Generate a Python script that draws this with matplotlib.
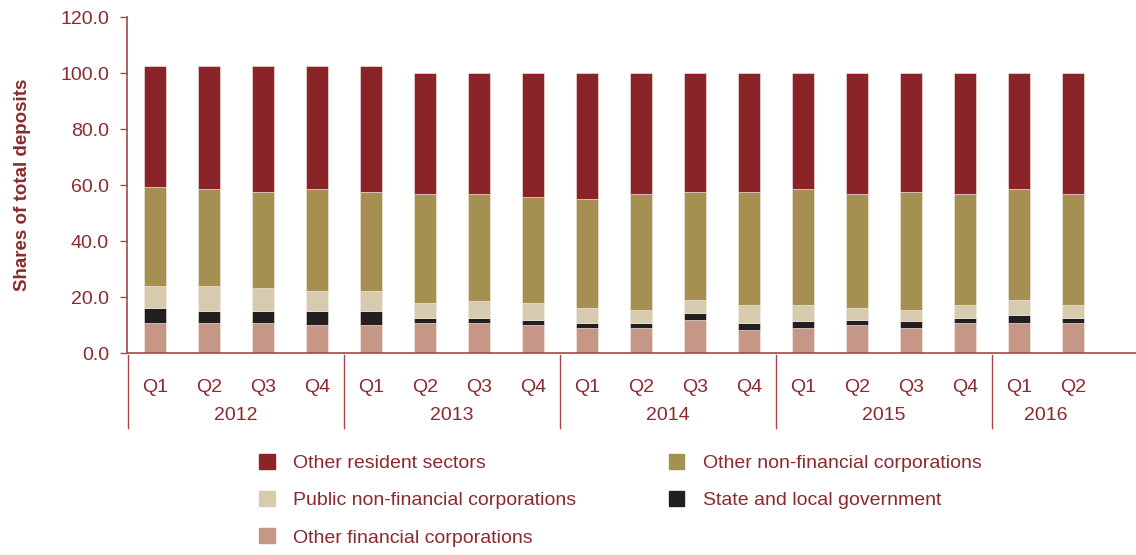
import numpy as np
import matplotlib
matplotlib.use('Agg')
import matplotlib.pyplot as plt
from matplotlib.patches import Patch
from matplotlib.transforms import blended_transform_factory

plt.rcParams['font.family'] = ['Liberation Sans', 'DejaVu Sans']

quarters = ['Q1', 'Q2', 'Q3', 'Q4'] * 4 + ['Q1', 'Q2']
years = ['2012', '2013', '2014', '2015', '2016']
year_sizes = [4, 4, 4, 4, 2]

other_financial = [10.8, 10.8, 10.8, 9.9, 9.9, 10.8, 10.8, 9.9, 8.9, 8.9,
                   11.7, 8.1, 8.9, 9.9, 8.9, 10.8, 10.8, 10.8]
state_local = [5.3, 4.3, 4.3, 5.2, 5.2, 1.7, 1.7, 1.8, 1.8, 1.8,
               2.6, 2.6, 2.6, 1.8, 2.6, 1.7, 2.6, 1.7]
public_nfc = [7.9, 8.9, 8.1, 7.2, 7.2, 5.4, 6.2, 6.2, 5.4, 4.5,
              4.6, 6.4, 5.5, 4.4, 3.7, 4.5, 5.4, 4.5]
other_nfc = [35.4, 34.5, 34.3, 36.2, 35.2, 38.8, 38.1, 37.8, 38.9, 41.6,
             38.6, 40.4, 41.6, 40.6, 42.3, 39.8, 39.8, 39.8]
other_resident = [43.1, 44.0, 45.0, 44.0, 45.0, 43.3, 43.2, 44.3, 45.0, 43.2,
                  42.5, 42.5, 41.4, 43.3, 42.5, 43.2, 41.4, 43.2]

series = [
    ('Other financial corporations', other_financial, '#c69686'),
    ('State and local government', state_local, '#231f20'),
    ('Public non-financial corporations', public_nfc, '#d7cbaf'),
    ('Other non-financial corporations', other_nfc, '#a59052'),
    ('Other resident sectors', other_resident, '#8b2428'),
]

text_col = '#8b2a2e'
line_col = '#a8454b'

fig = plt.figure(figsize=(11.36, 5.55), dpi=100)
ax = fig.add_axes([127 / 1136, 1 - 353 / 555, 1 - 127 / 1136, 336 / 555])

x = np.arange(len(quarters))
bottom = np.zeros(len(quarters))
for name, vals, col in series:
    ax.bar(x, vals, width=0.4, bottom=bottom, color=col, label=name,
           edgecolor='#f3ece4', linewidth=0.4)
    bottom += np.array(vals)

ax.set_ylim(0, 120)
ax.set_xlim(-0.52, 18.17)
ax.set_yticks(np.arange(0, 121, 20))
ax.set_yticklabels([f'{v:.1f}' for v in np.arange(0, 121, 20)])
ax.tick_params(axis='y', colors=line_col, labelcolor=text_col, labelsize=14,
               length=5, width=1, pad=8)
ax.tick_params(axis='x', length=0, labelbottom=False)
for s in ['top', 'right']:
    ax.spines[s].set_visible(False)
for s in ['left', 'bottom']:
    ax.spines[s].set_color(line_col)
    ax.spines[s].set_linewidth(1.2)

ax.set_ylabel('Shares of total deposits', color=text_col, fontsize=13.5,
              fontweight='bold')
ax.yaxis.set_label_coords(-0.095, 0.5)

# quarter and year labels with group separators under the axis
tr = blended_transform_factory(ax.transData, ax.transAxes)
for i, q in enumerate(quarters):
    ax.text(i, -0.103, q, transform=tr, ha='center', va='center',
            color=text_col, fontsize=14)

start = 0
edges = [-0.5]
for yr, n in zip(years, year_sizes):
    end = start + n
    edges.append(end - 0.5)
    mid = (start - 0.5 + min(end - 0.5, ax.get_xlim()[1])) / 2
    ax.text(mid, -0.185, yr, transform=tr, ha='center', va='center',
            color=text_col, fontsize=14)
    start = end
for e in edges[:-1]:
    ax.plot([e, e], [-0.006, -0.223], transform=tr, color=line_col,
            linewidth=1, clip_on=False)

handles = {name: Patch(color=col) for name, _, col in series}
order = ['Other resident sectors', 'Public non-financial corporations',
         'Other financial corporations', 'Other non-financial corporations',
         'State and local government']
leg = fig.legend([handles[n] for n in order], order, ncol=2,
                 loc='upper left', bbox_to_anchor=(259 / 1136, 1 - 454 / 555),
                 frameon=False, fontsize=14, borderpad=0, borderaxespad=0,
                 handlelength=0.82, handleheight=0.82, handletextpad=0.93,
                 columnspacing=4.75, labelspacing=0.97)
for t in leg.get_texts():
    t.set_color(text_col)

fig.savefig('out.png', dpi=100)
